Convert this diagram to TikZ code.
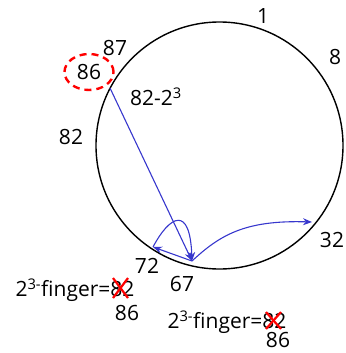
\documentclass[tikz,border=0pt]{standalone}
\usepackage{fontspec}
\setmainfont{Open Sans}
\usetikzlibrary{arrows.meta}
\definecolor{linkblue}{RGB}{55,55,205}

\tikzset{
  lbl/.style={font=\fontsize{21}{24}\selectfont, inner sep=1pt},
  ring/.style={draw=black, line width=1.4pt},
  link/.style={draw=linkblue, line width=1.1pt, -{Stealth[length=9pt,width=7pt]}},
  strike/.style={draw=red, line width=2.2pt},
  mark86/.style={draw=red, line width=2.4pt, dash pattern=on 7pt off 5pt},
}

\begin{document}
\begin{tikzpicture}[x=1pt,y=-1pt]
\useasboundingbox (0,0) rectangle (345,353);

% the ring
\draw[ring] (219.5,145.5) circle (123.5pt);

% ids round the ring
\node[lbl] (n1) at (263,16) {1};
\node[lbl] (n8) at (335,57) {8};
\node[lbl] (n32) at (332,240) {32};
\node[lbl] (n87) at (115,48) {87};
\node[lbl] (n86) at (89,72) {86};
\draw[mark86] (n86) ellipse (24.5pt and 18pt);
\node[lbl] (n82x) at (156,97) {82-2\textsuperscript{3}};
\node[lbl] (n82) at (71,137) {82};
\node[lbl] (n72) at (147,266) {72};
\node[lbl] (n67) at (182,284) {67};

% finger entries
\node[lbl] (f1) at (75,290) {2\textsuperscript{3-}finger=82};
\node[lbl] (f1new) at (127,313) {86};
\node[lbl] (f2) at (227,322) {2\textsuperscript{3-}finger=82};
\node[lbl] (f2new) at (278,340) {86};

% crossed out
\draw[strike] (113,278) -- (128,298);
\draw[strike] (128,278) -- (113,298);
\draw[strike] (266,312) -- (281,329);
\draw[strike] (281,312) -- (266,329);

% lookup path
\coordinate (p86) at (110,88);
\coordinate (p67) at (192,261);
\coordinate (p72) at (153,247);
\coordinate (p32) at (312,222);

\draw[link] (p86) -- (p67);
\draw[link] (p67) -- (p72);
\draw[link] (p72) .. controls (170,215) and (190,205) .. (p67);
\draw[link] (p67) .. controls (220,235) and (245,220) .. (p32);

\end{tikzpicture}
\end{document}
